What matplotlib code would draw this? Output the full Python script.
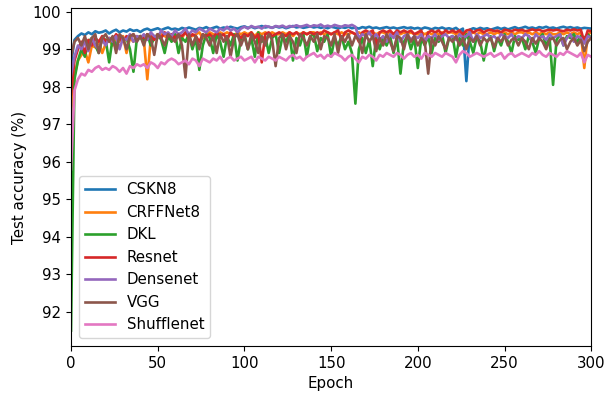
import numpy as np
import matplotlib
matplotlib.use("Agg")
import matplotlib.pyplot as plt

epochs = list(range(0, 301, 2))

cskn8 = [98.6, 99.25, 99.35, 99.42, 99.38, 99.45, 99.40, 99.48, 99.44, 99.46,
         99.50, 99.42, 99.48, 99.52, 99.45, 99.50, 99.47, 99.53, 99.49, 99.51,
         99.46, 99.52, 99.55, 99.50, 99.53, 99.56, 99.51, 99.55, 99.58, 99.53,
         99.55, 99.52, 99.57, 99.54, 99.58, 99.55, 99.52, 99.57, 99.55, 99.59,
         99.54, 99.57, 99.60, 99.55, 99.58, 99.56, 99.60, 99.57, 99.55, 99.59,
         99.61, 99.57, 99.60, 99.56, 99.59, 99.62, 99.58, 99.60, 99.57, 99.61,
         99.58, 99.60, 99.56, 99.59, 99.62, 99.58, 99.60, 99.57, 99.59, 99.61,
         99.58, 99.60, 99.57, 99.59, 99.56, 99.60, 99.58, 99.55, 99.59, 99.57,
         99.60, 99.56, 99.58, 99.55, 99.59, 99.57, 99.60, 99.56, 99.58, 99.55,
         99.57, 99.59, 99.56, 99.58, 99.55, 99.57, 99.59, 99.56, 99.58, 99.55,
         99.57, 99.54, 99.58, 99.56, 99.53, 99.57, 99.55, 99.58, 99.54, 99.56,
         99.53, 99.57, 99.50, 99.55, 98.15, 99.52, 99.56, 99.53, 99.57, 99.54,
         99.56, 99.52, 99.55, 99.58, 99.54, 99.57, 99.53, 99.56, 99.59, 99.55,
         99.57, 99.60, 99.56, 99.58, 99.55, 99.59, 99.57, 99.60, 99.56, 99.58,
         99.55, 99.58, 99.60, 99.57, 99.59, 99.56, 99.58, 99.55, 99.57, 99.56,
         99.55]

crffnet8 = [97.3, 98.3, 98.7, 98.85, 98.95, 98.65, 99.1, 99.05, 99.2, 98.9,
            99.15, 99.25, 99.1, 99.3, 99.2, 99.35, 98.9, 99.3, 99.2, 99.35,
            99.3, 99.25, 98.2, 99.3, 99.35, 99.3, 99.4, 99.35, 99.3, 99.4,
            99.35, 99.4, 99.3, 99.45, 99.4, 99.35, 99.4, 99.45, 99.3, 99.4,
            99.45, 99.4, 99.35, 99.45, 99.4, 99.45, 99.4, 99.35, 99.45, 99.4,
            99.45, 99.4, 99.45, 99.35, 99.45, 99.4, 99.45, 99.4, 99.45, 99.4,
            99.4, 99.45, 99.4, 99.45, 99.35, 99.45, 99.4, 99.45, 99.4, 99.45,
            99.45, 99.4, 99.45, 99.4, 99.45, 99.4, 99.45, 99.4, 99.45, 99.4,
            99.4, 99.45, 99.4, 99.45, 99.4, 99.45, 99.4, 99.45, 99.4, 99.45,
            99.45, 99.4, 99.45, 99.4, 99.45, 99.4, 99.45, 99.4, 99.45, 99.4,
            99.4, 99.45, 99.4, 99.45, 99.4, 99.45, 99.4, 99.45, 99.4, 99.45,
            99.45, 99.4, 99.45, 99.4, 99.45, 99.4, 99.45, 99.4, 99.45, 99.4,
            99.4, 99.45, 99.4, 99.45, 99.4, 99.45, 99.4, 99.45, 99.4, 99.45,
            99.45, 99.4, 99.45, 99.4, 99.45, 99.4, 99.45, 99.4, 99.45, 99.4,
            99.4, 99.45, 99.4, 99.45, 99.4, 99.45, 99.4, 99.45, 98.5, 99.4,
            99.45]

dkl = [91.5, 98.2, 98.7, 99.0, 98.8, 99.2, 99.3, 99.1, 98.9, 99.3,
       99.25, 98.65, 99.3, 99.1, 99.35, 99.2, 99.3, 99.0, 98.4, 99.3,
       99.35, 99.2, 99.4, 99.1, 99.3, 99.4, 99.25, 98.9, 99.35, 99.2,
       99.4, 98.9, 99.3, 99.2, 99.4, 99.0, 99.3, 98.45, 99.1, 99.4,
       99.3, 98.9, 99.4, 99.2, 98.8, 99.35, 99.1, 99.4, 98.7, 99.3,
       99.4, 99.0, 99.3, 98.8, 99.45, 99.2, 99.35, 98.9, 99.3, 99.4,
       98.9, 99.35, 99.2, 99.4, 98.7, 99.3, 99.1, 99.4, 98.8, 99.35,
       99.4, 98.95, 99.3, 99.2, 99.4, 98.8, 99.3, 99.1, 99.35, 99.0,
       99.2, 98.9, 97.55, 99.0, 99.3, 98.9, 99.25, 98.55, 99.3, 99.0,
       99.3, 99.1, 99.35, 98.9, 99.3, 98.35, 99.2, 99.35, 99.0, 99.3,
       98.5, 99.3, 99.1, 99.35, 98.9, 99.3, 99.2, 99.4, 98.9, 99.3,
       99.35, 98.8, 99.3, 99.1, 99.4, 99.2, 98.9, 99.35, 99.2, 98.7,
       99.2, 99.35, 98.95, 99.3, 99.1, 99.4, 99.2, 98.9, 99.35, 99.25,
       99.3, 99.0, 99.35, 99.2, 98.9, 99.3, 99.4, 99.1, 99.3, 98.05,
       99.25, 99.4, 99.1, 99.35, 99.3, 99.4, 99.2, 99.35, 99.3, 99.4,
       99.3]

resnet = [97.8, 98.7, 99.0, 99.2, 98.9, 99.25, 99.1, 99.3, 99.2, 99.35,
          99.2, 99.3, 99.25, 99.4, 99.3, 99.2, 99.35, 99.3, 99.4, 99.25,
          99.35, 99.3, 99.4, 99.35, 99.25, 99.4, 99.3, 99.45, 99.35, 99.4,
          99.3, 99.4, 99.35, 99.45, 99.3, 99.4, 99.35, 99.2, 99.4, 99.35,
          99.4, 99.3, 99.45, 99.35, 99.4, 99.25, 99.45, 99.35, 99.4, 99.3,
          99.4, 99.35, 99.45, 99.3, 99.4, 98.65, 99.4, 99.45, 99.35, 99.4,
          99.45, 99.4, 99.35, 99.45, 99.4, 99.45, 99.35, 99.45, 99.4, 99.45,
          99.4, 99.45, 99.4, 99.5, 99.45, 99.4, 99.45, 99.5, 99.25, 99.45,
          99.5, 99.45, 99.4, 99.2, 99.45, 99.5, 99.45, 99.5, 99.1, 99.45,
          99.5, 99.45, 99.5, 99.4, 99.5, 99.45, 99.5, 99.45, 99.5, 99.4,
          99.45, 99.5, 99.15, 99.45, 99.5, 99.45, 99.5, 99.4, 99.5, 99.45,
          99.5, 99.45, 99.5, 99.4, 99.5, 99.52, 99.45, 99.5, 99.52, 99.45,
          99.5, 99.52, 99.48, 99.5, 99.45, 99.52, 99.5, 99.48, 99.52, 99.5,
          99.52, 99.48, 99.5, 99.53, 99.5, 99.52, 99.48, 99.5, 99.52, 99.5,
          99.52, 99.5, 99.48, 99.52, 99.5, 99.53, 99.5, 99.52, 99.2, 99.5,
          99.48]

densenet = [98.3, 98.8, 99.1, 99.0, 99.2, 98.95, 99.3, 99.1, 99.0, 99.25,
            99.1, 99.3, 99.2, 99.35, 99.0, 99.3, 99.25, 99.4, 99.2, 99.35,
            99.3, 99.4, 99.25, 99.45, 99.35, 99.3, 99.5, 99.4, 99.45, 99.35,
            99.5, 99.4, 99.45, 99.55, 99.4, 99.5, 99.45, 99.55, 99.5, 99.45,
            99.55, 99.5, 99.45, 99.55, 99.5, 99.6, 99.5, 99.55, 99.45, 99.55,
            99.6, 99.55, 99.62, 99.58, 99.6, 99.55, 99.62, 99.6, 99.57, 99.62,
            99.6, 99.63, 99.58, 99.62, 99.6, 99.64, 99.6, 99.62, 99.65, 99.6,
            99.64, 99.62, 99.66, 99.6, 99.63, 99.6, 99.65, 99.62, 99.6, 99.64,
            99.62, 99.65, 99.6, 99.3, 99.4, 99.35, 99.45, 99.3, 99.4, 99.25,
            99.35, 99.2, 99.4, 99.3, 99.45, 99.2, 99.35, 99.4, 99.25, 99.35,
            99.3, 99.4, 99.2, 99.35, 99.3, 99.4, 99.25, 99.35, 99.4, 99.3,
            99.35, 99.25, 99.4, 99.3, 99.35, 99.45, 99.2, 99.4, 99.3, 99.35,
            99.4, 99.3, 99.35, 99.25, 99.4, 99.35, 99.3, 99.4, 99.25, 99.35,
            99.3, 99.4, 99.35, 99.2, 99.4, 99.3, 99.35, 99.25, 99.4, 99.3,
            99.35, 99.4, 99.1, 99.3, 99.4, 99.2, 99.35, 99.3, 99.15, 99.35,
            99.3]

vgg = [98.8, 99.2, 99.3, 99.1, 99.35, 99.0, 99.3, 99.4, 98.9, 99.3,
       99.4, 99.2, 99.35, 98.9, 99.4, 99.3, 99.0, 99.35, 99.4, 99.2,
       99.35, 99.1, 99.4, 99.3, 98.85, 99.4, 99.3, 99.1, 99.4, 99.3,
       99.2, 99.4, 99.1, 98.25, 99.4, 99.1, 99.35, 99.0, 99.4, 99.3,
       99.1, 99.35, 98.9, 99.4, 99.2, 99.35, 98.8, 99.3, 99.4, 99.1,
       99.35, 99.0, 99.4, 99.2, 98.9, 99.35, 99.1, 99.4, 99.25, 98.55,
       99.3, 99.4, 99.0, 99.35, 99.2, 98.9, 99.4, 99.3, 99.1, 99.35,
       99.2, 99.4, 99.0, 99.35, 99.3, 99.1, 99.4, 98.9, 99.35, 99.2,
       99.4, 99.1, 99.35, 99.25, 98.9, 99.4, 99.2, 99.35, 98.95, 99.3,
       99.1, 99.4, 99.2, 98.95, 99.35, 99.3, 99.0, 99.4, 99.2, 99.35,
       99.1, 99.3, 99.2, 98.35, 99.3, 99.1, 99.35, 99.2, 99.0, 99.3,
       99.2, 99.35, 99.1, 99.3, 99.0, 99.3, 99.2, 99.35, 99.1, 99.3,
       99.2, 99.3, 99.05, 99.3, 99.2, 99.35, 99.1, 99.25, 99.3, 99.1,
       99.3, 99.2, 99.0, 99.3, 99.15, 99.3, 99.2, 99.0, 99.25, 99.3,
       99.1, 99.25, 99.3, 99.0, 99.2, 99.3, 99.1, 99.25, 98.95, 99.2,
       99.3]

shufflenet = [95.8, 97.9, 98.2, 98.35, 98.3, 98.45, 98.4, 98.5, 98.55, 98.45,
              98.5, 98.45, 98.55, 98.5, 98.4, 98.5, 98.35, 98.55, 98.5, 98.6,
              98.55, 98.6, 98.5, 98.65, 98.6, 98.5, 98.65, 98.6, 98.7, 98.75,
              98.7, 98.6, 98.65, 98.7, 98.6, 98.75, 98.7, 98.55, 98.75, 98.7,
              98.65, 98.75, 98.7, 98.8, 98.65, 98.75, 98.8, 98.7, 98.75, 98.8,
              98.7, 98.75, 98.8, 98.65, 98.8, 98.75, 98.7, 98.8, 98.75, 98.7,
              98.8, 98.75, 98.7, 98.8, 98.85, 98.75, 98.8, 98.7, 98.8, 98.85,
              98.9, 98.8, 98.85, 98.75, 98.85, 98.8, 98.9, 98.85, 98.8, 98.7,
              98.8, 98.85, 98.75, 98.65, 98.8, 98.75, 98.85, 98.8, 98.7, 98.85,
              98.8, 98.9, 98.85, 98.8, 98.9, 98.85, 98.75, 98.85, 98.9, 98.8,
              98.85, 98.75, 98.9, 98.85, 98.8, 98.9, 98.85, 98.8, 98.9, 98.85,
              98.8, 98.65, 98.85, 98.95, 98.9, 98.8, 98.85, 98.9, 98.85, 98.8,
              98.85, 98.9, 98.8, 98.85, 98.9, 98.75, 98.85, 98.9, 98.8, 98.85,
              98.9, 98.85, 98.8, 98.9, 98.85, 98.95, 98.85, 98.8, 98.9, 98.85,
              98.8, 98.9, 98.85, 98.95, 98.9, 98.85, 98.8, 98.9, 98.65, 98.85,
              98.8]

labels = ["CSKN8", "CRFFNet8", "DKL", "Resnet", "Densenet", "VGG", "Shufflenet"]
series = [cskn8, crffnet8, dkl, resnet, densenet, vgg, shufflenet]

plt.rcParams["font.size"] = 10.8

fig = plt.figure(figsize=(6.07, 3.99), dpi=100)
ax = fig.add_axes([0.117, 0.133, 0.857, 0.847])
for lab, ys in zip(labels, series):
    ax.plot(epochs, ys, label=lab, linewidth=1.9)
ax.set_xlim(0, 300)
ax.set_ylim(91.09, 100.1)
ax.set_xticks([0, 50, 100, 150, 200, 250, 300])
ax.set_yticks([92, 93, 94, 95, 96, 97, 98, 99, 100])
ax.set_xlabel("Epoch")
ax.set_ylabel("Test accuracy (%)")
ax.legend(loc="lower left")
fig.savefig("out.png", dpi=100)
